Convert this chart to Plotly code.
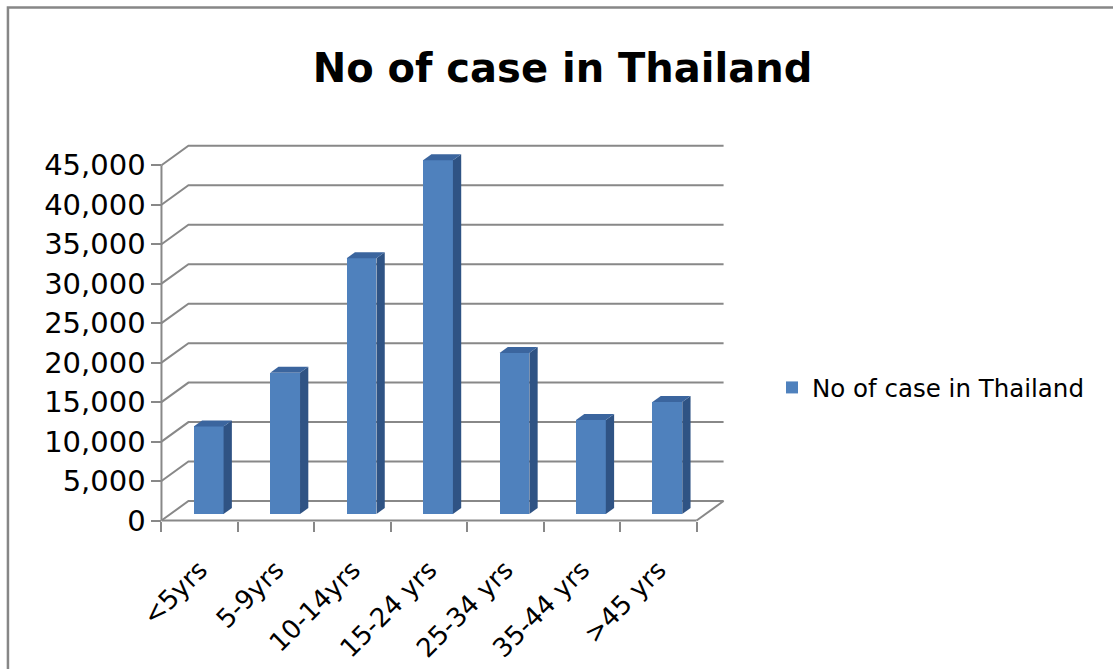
import plotly.graph_objects as go

# Data
categories = ["<5yrs", "5-9yrs", "10-14yrs", "15-24 yrs", "25-34 yrs", "35-44 yrs", ">45 yrs"]
cases = [11100, 17900, 32400, 44800, 20400, 11900, 14200]
y_tickvals = [0, 5000, 10000, 15000, 20000, 25000, 30000, 35000, 40000, 45000]
y_ticktext = [f"{v:,}" for v in y_tickvals]
series_name = "No of case in Thailand"

# Oblique 3-D projection: how far the back wall sits, in axis units
DEPTH_X = 0.353      # category units
DEPTH_Y = 2470       # value units
BAR_Z0, BAR_Z1 = 0.333, 0.64   # bar front/back depth (fraction of floor depth)
BAR_W = 0.39

FRONT = "#4F81BD"
SIDE = "#2F5384"
TOP = "#3B659E"
GRID = "#888888"
FONT = "DejaVu Sans"

n = len(categories)
X_RANGE = [-0.15, 7.45]
Y_RANGE = [-1200, 48200]

fig = go.Figure()

# Front faces of the columns
front_x = [i + 0.5 + BAR_Z0 * DEPTH_X for i in range(n)]
base = BAR_Z0 * DEPTH_Y
fig.add_trace(go.Bar(
    x=front_x, y=cases, base=[base] * n, width=BAR_W,
    marker=dict(color=FRONT, line=dict(width=0)),
    name=series_name, showlegend=True, hoverinfo="skip",
))

# Side and top faces of each column
dz = BAR_Z1 - BAR_Z0
for cx, v in zip(front_x, cases):
    xl, xr = cx - BAR_W / 2, cx + BAR_W / 2
    ox, oy = dz * DEPTH_X, dz * DEPTH_Y
    fig.add_trace(go.Scatter(
        x=[xr, xr + ox, xr + ox, xr, xr],
        y=[base, base + oy, base + v + oy, base + v, base],
        fill="toself", fillcolor=SIDE, mode="lines", line=dict(width=0),
        showlegend=False, hoverinfo="skip",
    ))
    fig.add_trace(go.Scatter(
        x=[xl, xr, xr + ox, xl + ox, xl],
        y=[base + v, base + v, base + v + oy, base + v + oy, base + v],
        fill="toself", fillcolor=TOP, mode="lines", line=dict(width=0),
        showlegend=False, hoverinfo="skip",
    ))

shapes = []
# Back-wall gridlines, running from the front value axis into the wall
for v in y_tickvals:
    shapes.append(dict(
        type="path", xref="x", yref="y", layer="below",
        path=f"M 0,{v} L {DEPTH_X},{v + DEPTH_Y} L {n + DEPTH_X},{v + DEPTH_Y}",
        line=dict(color=GRID, width=2),
    ))
# Floor right edge, front floor edge and front value axis
shapes.append(dict(type="line", xref="x", yref="y", layer="below",
                   x0=n, y0=0, x1=n + DEPTH_X, y1=DEPTH_Y, line=dict(color=GRID, width=2)))
shapes.append(dict(type="line", xref="x", yref="y", layer="below",
                   x0=0, y0=0, x1=n, y1=0, line=dict(color=GRID, width=2)))
shapes.append(dict(type="line", xref="x", yref="y", layer="below",
                   x0=0, y0=0, x1=0, y1=y_tickvals[-1], line=dict(color=GRID, width=2)))
# Chart border (left and top edges fall inside the page)
shapes.append(dict(type="rect", xref="paper", yref="paper",
                   x0=-0.2445, y0=-1.0, x1=2.0, y1=1.3395,
                   line=dict(color="#878787", width=2.5)))

x_pos0 = (0 - X_RANGE[0]) / (X_RANGE[1] - X_RANGE[0])
y_pos0 = (0 - Y_RANGE[0]) / (Y_RANGE[1] - Y_RANGE[0])

fig.update_layout(
    width=1113, height=669,
    margin=dict(l=149.5, r=382.1, t=139.7, b=139, pad=0, autoexpand=False),
    paper_bgcolor="white", plot_bgcolor="rgba(0,0,0,0)",
    title=dict(text=series_name, x=0.5054, xref="container", xanchor="center",
               y=0.898, yref="container", yanchor="middle",
               font=dict(family=FONT, size=40, color="black", weight="bold")),
    xaxis=dict(range=X_RANGE, anchor="free", position=y_pos0, automargin=False,
               tickvals=[i + 0.5 for i in range(n)], ticktext=categories,
               tickangle=-45, ticks="", showgrid=False, zeroline=False, showline=False,
               tickfont=dict(family=FONT, size=26, color="black"),
               ticklabelstandoff=28,
               minor=dict(tick0=0, dtick=1, ticks="outside", ticklen=10,
                          tickwidth=2, tickcolor=GRID, showgrid=False)),
    yaxis=dict(range=Y_RANGE, anchor="free", position=x_pos0, automargin=False,
               tickvals=y_tickvals, ticktext=y_ticktext,
               ticks="outside", ticklen=10, tickwidth=2, tickcolor=GRID,
               showgrid=False, zeroline=False, showline=False,
               tickfont=dict(family=FONT, size=29, color="black")),
    legend=dict(xref="container", yref="container", x=772 / 1113, y=1 - 387.5 / 669,
                xanchor="left", yanchor="middle",
                font=dict(family=FONT, size=24.5, color="black"),
                bgcolor="rgba(0,0,0,0)"),
    shapes=shapes,
    bargap=0,
)

fig.write_html("out.html")
